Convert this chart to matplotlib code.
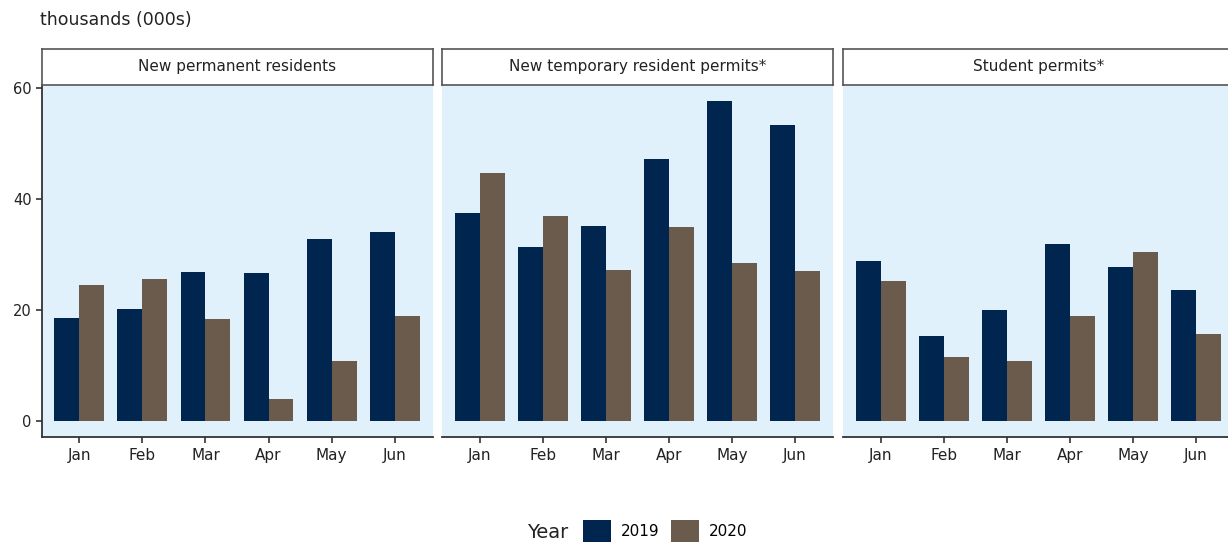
import numpy as np
import matplotlib
matplotlib.use("Agg")
import matplotlib.pyplot as plt
from matplotlib.patches import Patch

months = ["Jan", "Feb", "Mar", "Apr", "May", "Jun"]
panels = ["New permanent residents", "New temporary resident permits*", "Student permits*"]

# values in thousands
perm_2019 = [18.6, 20.2, 26.9, 26.6, 32.8, 34.1]
perm_2020 = [24.6, 25.6, 18.4, 3.95, 10.8, 19.0]
temp_2019 = [37.5, 31.3, 35.1, 47.2, 57.7, 53.4]
temp_2020 = [44.7, 36.9, 27.3, 34.9, 28.4, 27.1]
stud_2019 = [28.8, 15.4, 20.0, 31.9, 27.7, 23.7]
stud_2020 = [25.2, 11.5, 10.9, 18.9, 30.5, 15.7]

series = [(perm_2019, perm_2020), (temp_2019, temp_2020), (stud_2019, stud_2020)]

c2019 = "#00264f"
c2020 = "#6a5b4d"
bg = "#e1f1fc"

plt.rcParams["font.family"] = "DejaVu Sans"

W, H = 1228, 544
fig = plt.figure(figsize=(W / 100, H / 100), dpi=100)

lefts = [41.5, 442, 843]
pw = 391
top, bottom = 85, 437
strip_top = 49

x = np.arange(len(months))
bw = 0.395

for i, (name, (a, b)) in enumerate(zip(panels, series)):
    ax = fig.add_axes([lefts[i] / W, 1 - bottom / H, pw / W, (bottom - top) / H])
    ax.set_facecolor(bg)
    ax.bar(x - bw / 2, a, width=bw, color=c2019, linewidth=0)
    ax.bar(x + bw / 2, b, width=bw, color=c2020, linewidth=0)
    ax.set_xlim(-0.6, 5.6)
    ax.set_ylim(-2.9, 60.6)
    ax.set_xticks(x)
    ax.set_xticklabels(months, fontsize=11, color="#222222")
    ax.tick_params(axis="x", length=4, width=1.2, color="#333333", pad=4)
    for s in ["top", "right"]:
        ax.spines[s].set_visible(False)
    ax.spines["bottom"].set_color("#333333")
    ax.spines["bottom"].set_linewidth(1.3)
    if i == 0:
        ax.set_yticks([0, 20, 40, 60])
        ax.tick_params(axis="y", length=4, width=1.2, color="#333333", labelsize=10.5,
                       labelcolor="#222222", pad=3)
        ax.spines["left"].set_color("#333333")
        ax.spines["left"].set_linewidth(1.3)
    else:
        ax.set_yticks([])
        ax.spines["left"].set_visible(False)

    # facet strip
    sax = fig.add_axes([lefts[i] / W, 1 - top / H, pw / W, (top - strip_top) / H])
    sax.set_xticks([])
    sax.set_yticks([])
    sax.set_facecolor("white")
    for s in sax.spines.values():
        s.set_color("#555555")
        s.set_linewidth(1.2)
    sax.text(0.5, 0.5, name, ha="center", va="center", fontsize=11, color="#222222",
             transform=sax.transAxes)

fig.text(40 / W, 1 - 20 / H, "thousands (000s)", fontsize=12.5, color="#222222",
         ha="left", va="center")

fig.text(568 / W, 1 - 533 / H, "Year", fontsize=14, color="#222222", ha="right", va="center")
handles = [Patch(facecolor=c2019, label="2019"), Patch(facecolor=c2020, label="2020")]
fig.legend(handles=handles, ncol=2, frameon=False, loc="center left",
           bbox_to_anchor=(583 / W, 1 - 531 / H), fontsize=11,
           handlelength=1.8, handleheight=1.8, handletextpad=0.65,
           columnspacing=0.8, borderpad=0, borderaxespad=0)

fig.savefig("out.png", dpi=100)
